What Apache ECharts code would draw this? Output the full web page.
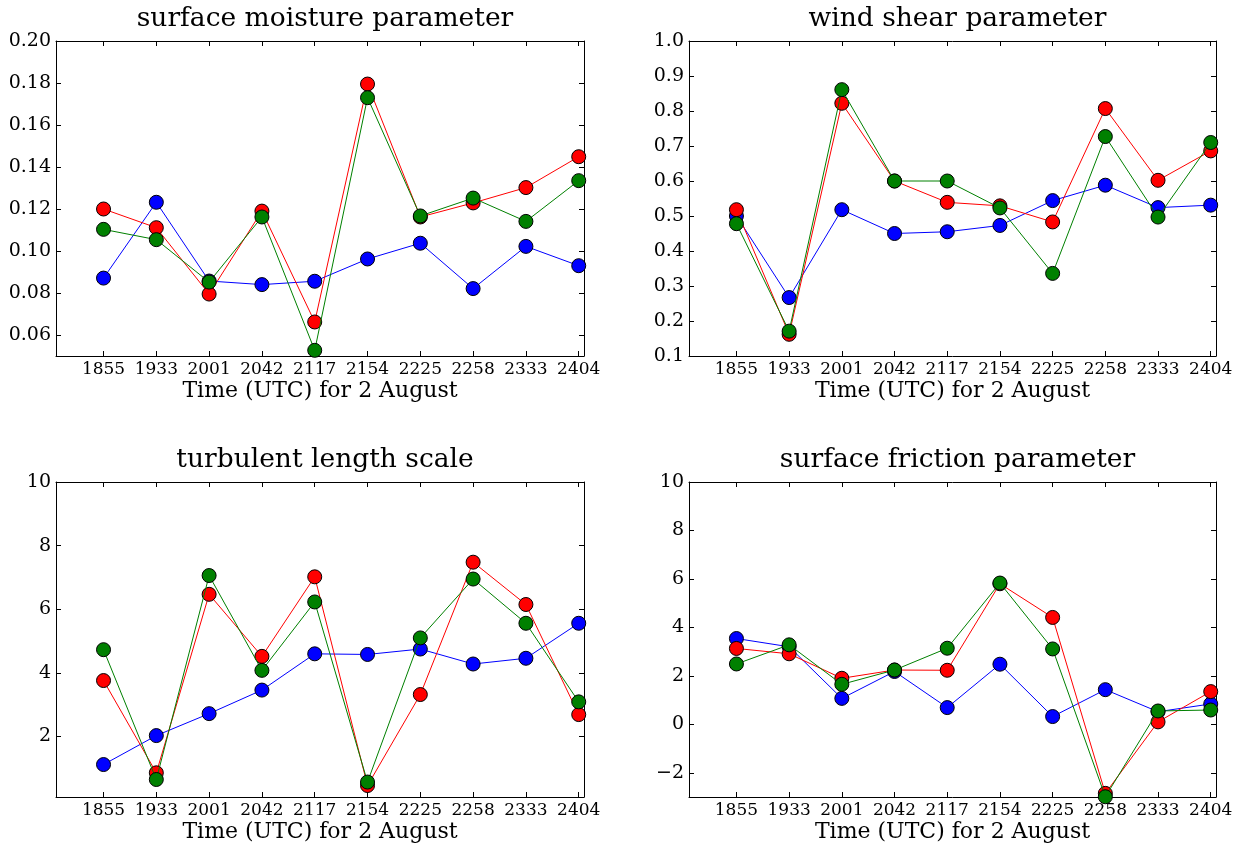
<!DOCTYPE html>
<html>
<head>
<meta charset="utf-8">
<script src="https://cdn.jsdelivr.net/npm/echarts@6/dist/echarts.min.js"></script>
<style>
  html, body { margin: 0; padding: 0; background: #fff; }
  #chart { width: 1243px; height: 850px; }
</style>
</head>
<body>
<div id="chart"></div>
<script>
const times = ["1855", "1933", "2001", "2042", "2117", "2154", "2225", "2258", "2333", "2404"];

// surface moisture parameter
const moistBlue = [0.0871, 0.1232, 0.0857, 0.0840, 0.0856, 0.0962, 0.1037, 0.0821, 0.1022, 0.0930];
const moistRed = [0.1200, 0.1111, 0.0795, 0.1190, 0.0662, 0.1795, 0.1162, 0.1229, 0.1302, 0.1449];
const moistGreen = [0.1103, 0.1054, 0.0852, 0.1162, 0.0527, 0.1730, 0.1167, 0.1252, 0.1141, 0.1335];

// wind shear parameter
const shearBlue = [0.500, 0.267, 0.518, 0.450, 0.455, 0.473, 0.544, 0.588, 0.524, 0.531];
const shearRed = [0.518, 0.162, 0.822, 0.600, 0.539, 0.529, 0.483, 0.807, 0.602, 0.686];
const shearGreen = [0.478, 0.171, 0.861, 0.600, 0.600, 0.523, 0.336, 0.727, 0.497, 0.710];

// turbulent length scale
const turbBlue = [1.12, 2.03, 2.72, 3.46, 4.60, 4.58, 4.75, 4.28, 4.46, 5.56];
const turbRed = [3.76, 0.86, 6.47, 4.52, 7.02, 0.46, 3.32, 7.48, 6.15, 2.69];
const turbGreen = [4.73, 0.65, 7.06, 4.08, 6.23, 0.57, 5.10, 6.95, 5.56, 3.09];

// surface friction parameter
const fricBlue = [3.54, 3.20, 1.07, 2.18, 0.69, 2.48, 0.32, 1.43, 0.52, 0.84];
const fricRed = [3.13, 2.91, 1.90, 2.24, 2.23, 5.80, 4.41, -2.85, 0.10, 1.35];
const fricGreen = [2.49, 3.28, 1.65, 2.24, 3.14, 5.83, 3.11, -2.99, 0.55, 0.59];

const titles = ["surface moisture parameter", "wind shear parameter", "turbulent length scale", "surface friction parameter"];
const yTicks = [
  [0.06, 0.08, 0.10, 0.12, 0.14, 0.16, 0.18, 0.20],
  [0.1, 0.2, 0.3, 0.4, 0.5, 0.6, 0.7, 0.8, 0.9, 1.0],
  [2, 4, 6, 8, 10],
  [-2, 0, 2, 4, 6, 8, 10]
];
const yRanges = [[0.05, 0.20], [0.1, 1.0], [0.1, 10], [-3, 10]];
const yDigits = [2, 1, 0, 0];
const panelData = [
  [moistBlue, moistRed, moistGreen],
  [shearBlue, shearRed, shearGreen],
  [turbBlue, turbRed, turbGreen],
  [fricBlue, fricRed, fricGreen]
];
const colors = ["#0000ff", "#ff0000", "#008000"];

const font = "DejaVu Serif";
const boxes = [
  { left: 56, top: 41, width: 528, height: 315 },
  { left: 689, top: 41, width: 527, height: 315 },
  { left: 56, top: 482, width: 528, height: 315 },
  { left: 689, top: 482, width: 527, height: 315 }
];
const xIdx = times.map((t, i) => i);
const axisLine = { show: true, onZero: false, lineStyle: { color: "#000", width: 1 } };

const grid = [], xAxis = [], yAxis = [], series = [], title = [];
boxes.forEach((b, p) => {
  grid.push({ left: b.left, top: b.top, width: b.width, height: b.height, containLabel: false });
  title.push({
    text: titles[p],
    left: b.left + b.width / 2,
    top: b.top - 40,
    textAlign: "center",
    textStyle: { fontFamily: font, fontSize: 26.5, fontWeight: "normal", color: "#000" }
  });
  // bottom x axis with labels
  xAxis.push({
    type: "value", gridIndex: p, min: -0.9, max: 9.1, position: "bottom",
    name: "Time (UTC) for 2 August", nameLocation: "middle", nameGap: 24,
    nameTextStyle: { fontFamily: font, fontSize: 22, color: "#000", verticalAlign: "top" },
    axisLine,
    axisTick: { show: true, inside: true, length: 5, customValues: xIdx, lineStyle: { color: "#000" } },
    axisLabel: { show: true, customValues: xIdx, margin: 5, fontFamily: font, fontSize: 17, color: "#000", formatter: (v) => times[Math.round(v)] },
    splitLine: { show: false }
  });
  // top mirror axis
  xAxis.push({
    type: "value", gridIndex: p, min: -0.9, max: 9.1, position: "top",
    axisLine,
    axisTick: { show: true, inside: true, length: 5, customValues: xIdx, lineStyle: { color: "#000" } },
    axisLabel: { show: false },
    splitLine: { show: false }
  });
  yAxis.push({
    type: "value", gridIndex: p, min: yRanges[p][0], max: yRanges[p][1], position: "left",
    axisLine,
    axisTick: { show: true, inside: true, length: 5, customValues: yTicks[p], lineStyle: { color: "#000" } },
    axisLabel: {
      show: true, customValues: yTicks[p], margin: 5, fontFamily: font, fontSize: 19, color: "#000",
      formatter: (v) => v.toFixed(yDigits[p]).replace("-", "\u2212")
    },
    splitLine: { show: false }
  });
  yAxis.push({
    type: "value", gridIndex: p, min: yRanges[p][0], max: yRanges[p][1], position: "right",
    axisLine,
    axisTick: { show: true, inside: true, length: 5, customValues: yTicks[p], lineStyle: { color: "#000" } },
    axisLabel: { show: false },
    splitLine: { show: false }
  });
  panelData[p].forEach((vals, s) => {
    series.push({
      type: "line",
      xAxisIndex: p * 2,
      yAxisIndex: p * 2,
      data: vals.map((v, i) => [i, v]),
      symbol: "circle",
      symbolSize: 14,
      showAllSymbol: true,
      clip: false,
      lineStyle: { color: colors[s], width: 1 },
      itemStyle: { color: colors[s], borderColor: "#000", borderWidth: 1 },
      animation: false,
      z: 2 + s
    });
  });
});

const chart = echarts.init(document.getElementById("chart"), null, { renderer: "canvas" });
chart.setOption({
  backgroundColor: "#fff",
  animation: false,
  title, grid, xAxis, yAxis, series
});
</script>
</body>
</html>
